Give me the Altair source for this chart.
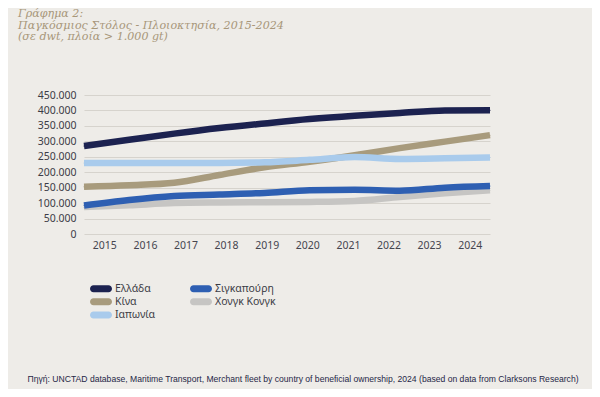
import altair as alt
import pandas as pd

years = list(range(2015, 2025))
legend_order = ["Ελλάδα", "Κίνα", "Ιαπωνία", "Σιγκαπούρη", "Χονγκ Κονγκ"]
draw_order = ["Χονγκ Κονγκ", "Κίνα", "Ιαπωνία", "Σιγκαπούρη", "Ελλάδα"]
colors = ["#1c2250", "#a89b7d", "#a9cbec", "#2e5fb2", "#c6c5c3"]

greece = [285000, 305000, 325000, 343000, 358000, 372000, 383000, 392000, 400000, 401000]
singapore = [92000, 110000, 123000, 128000, 133000, 142000, 143000, 140000, 150000, 155000]
china = [153000, 158000, 166000, 191000, 216000, 234000, 255000, 278000, 299000, 320000]
hongkong = [87000, 93000, 100000, 102000, 103000, 104000, 107000, 120000, 132000, 142000]
japan = [230000, 230000, 230000, 230000, 232000, 240000, 249000, 243000, 245000, 248000]

y_ticks = list(range(0, 450001, 50000))

series = {
    "Ελλάδα": greece,
    "Σιγκαπούρη": singapore,
    "Κίνα": china,
    "Χονγκ Κονγκ": hongkong,
    "Ιαπωνία": japan,
}

rows = []
for name, vals in series.items():
    for yr, v in zip(years, vals):
        rows.append({"Χώρα": name, "Έτος": yr, "dwt": v})
df = pd.DataFrame(rows)

# axis labels sit in the middle of ten equal bands while lines run edge to edge
n = len(years)
span = (years[-1] - years[0]) / n
label_vals = [years[0] + (i + 0.5) * span for i in range(n)]

source = ("Πηγή: UNCTAD database, Maritime Transport, Merchant fleet by country of "
          "beneficial ownership, 2024 (based on data from Clarksons Research)")

x_enc = alt.X(
    "Έτος:Q",
    scale=alt.Scale(domain=[years[0], years[-1]], nice=False, zero=False),
    axis=alt.Axis(
        values=label_vals,
        labelExpr=f"'' + (round((datum.value - {years[0]}) / {span} - 0.5) + {years[0]})",
        grid=False, domain=False, ticks=False, labelPadding=6,
        labelFont="Noto Sans", labelFontSize=10.5, labelColor="#45454f",
        title=source, titleX=-57, titleY=144, titleAlign="left",
        titleBaseline="middle", titleFont="Liberation Sans", titleFontSize=8.6,
        titleFontWeight="normal", titleColor="#1f2747",
    ),
)
y_enc = alt.Y(
    "dwt:Q",
    scale=alt.Scale(domain=[0, 450000], nice=False),
    axis=alt.Axis(
        values=y_ticks,
        labelExpr="datum.value == 0 ? '0' : floor(datum.value / 1000) + '.000'",
        grid=True, gridColor="#d6d3cd", gridWidth=1, domain=False, ticks=False,
        labelPadding=8, labelFont="Noto Sans", labelFontSize=10.5,
        labelColor="#3c3c46", title=None,
    ),
)
pill = ("M-0.68,-0.32 L0.68,-0.32 A0.32,0.32 0 0 1 0.68,0.32 "
        "L-0.68,0.32 A0.32,0.32 0 0 1 -0.68,-0.32 Z")
color_scale = alt.Scale(domain=legend_order, range=colors)
legend = alt.Legend(
    title=None, orient="none", legendX=6, legendY=188.5, columns=2,
    symbolType=pill, symbolSize=484, symbolStrokeWidth=0, symbolOpacity=1,
    clipHeight=10, rowPadding=2.3, columnPadding=34, labelOffset=3,
    labelFont="Noto Sans", labelFontSize=10.5, labelColor="#3c3c46",
    padding=0,
)

base = alt.Chart(df)
# tiny filled points, hidden under the thick lines, give the legend filled pills
legend_layer = base.mark_point(filled=True, size=1, opacity=1).encode(
    x=x_enc, y=y_enc, color=alt.Color("Χώρα:N", scale=color_scale, legend=legend)
)
layers = [
    base.transform_filter(alt.datum["Χώρα"] == name)
    .mark_line(strokeWidth=6.5, interpolate="monotone", strokeCap="butt")
    .encode(x=x_enc, y=y_enc,
            color=alt.Color("Χώρα:N", scale=color_scale, legend=None))
    for name in draw_order
]

chart = alt.layer(legend_layer, *layers).properties(
    width=406,
    height=139,
    autosize=alt.AutoSizeParams(type="none"),
    padding={"left": 76, "top": 87, "right": 102, "bottom": 155},
    title=alt.TitleParams(
        text=["Γράφημα 2:", "Παγκόσμιος Στόλος - Πλοιοκτησία, 2015-2024",
              "(σε dwt, πλοία > 1.000 gt)"],
        anchor="start", frame="group", dx=-66, offset=47.5,
        font="DejaVu Serif", fontStyle="italic", fontWeight="normal",
        fontSize=11.1, lineHeight=11.5, color="#a8977a",
    ),
).configure(background="#eeece8").configure_view(stroke=None)

chart.save("out.html", embed_options={"renderer": "svg", "actions": False})
